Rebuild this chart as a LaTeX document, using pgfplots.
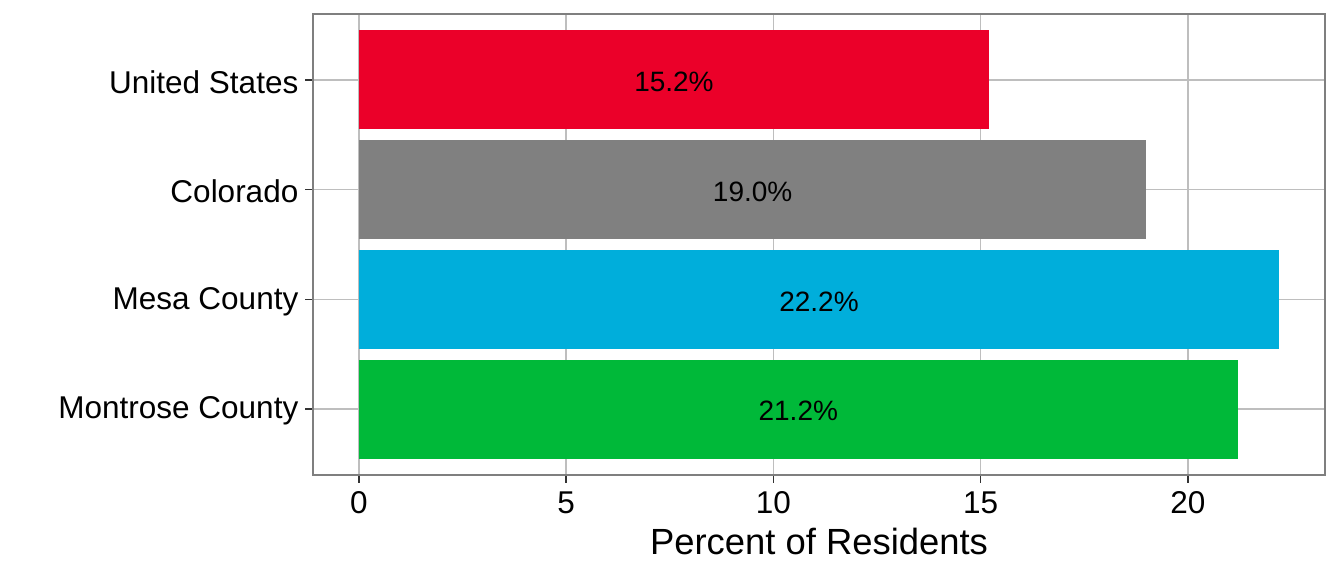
\documentclass[border=0pt]{standalone}
\usepackage{fontspec}
\setmainfont{Liberation Sans}
\usepackage{pgfplots}
\pgfplotsset{compat=1.18}
\definecolor{usred}{RGB}{235,0,41}
\definecolor{cogray}{RGB}{128,128,128}
\definecolor{mesablue}{RGB}{0,174,219}
\definecolor{montgreen}{RGB}{0,185,57}
\definecolor{gridgray}{RGB}{190,190,190}
\definecolor{bordergray}{RGB}{127,127,127}
\definecolor{tickgray}{RGB}{51,51,51}
\begin{document}
\begin{tikzpicture}
\begin{axis}[
  at={(0,0)}, anchor=south west,
  scale only axis, width=506pt, height=230.5pt,
  xmin=-1.11, xmax=23.31, ymin=0.4, ymax=4.6,
  xtick={0,5,10,15,20}, ytick={1,2,3,4},
  yticklabels={Montrose County, Mesa County, Colorado, United States},
  xtick pos=lower, ytick pos=left,
  grid=major, major grid style={color=gridgray, line width=0.8pt},
  axis line style={color=bordergray, line width=0.7pt},
  tick align=outside, major tick length=3.8pt,
  tick style={color=tickgray, line width=0.8pt},
  tick label style={font=\fontsize{15.75}{18}\selectfont, text=black},
  xticklabel style={yshift=-1pt},
  yticklabel style={yshift=-1pt},
  /pgf/number format/assume math mode=true,
  xlabel={Percent of Residents},
  every axis x label/.style={at={(axis description cs:0.5,0)}, anchor=base, yshift=-40pt, font=\fontsize{18.2}{22}\selectfont},
]
\addplot[xbar, bar width=0.9, draw=none, fill=montgreen] coordinates {(21.2,1)};
\addplot[xbar, bar width=0.9, draw=none, fill=mesablue] coordinates {(22.2,2)};
\addplot[xbar, bar width=0.9, draw=none, fill=cogray] coordinates {(19.0,3)};
\addplot[xbar, bar width=0.9, draw=none, fill=usred] coordinates {(15.2,4)};
\addplot[draw=none, mark=none, nodes near coords, point meta=explicit symbolic,
  every node near coord/.style={anchor=center, yshift=-1pt, font=\fontsize{14}{16}\selectfont, text=black}]
  coordinates {(10.6,1) [21.2\%] (11.1,2) [22.2\%] (9.5,3) [19.0\%] (7.6,4) [15.2\%]};
\end{axis}
\pgfresetboundingbox
\path (-156.5pt,-50.5pt) rectangle (515.5pt,237.5pt);
\end{tikzpicture}
\end{document}
